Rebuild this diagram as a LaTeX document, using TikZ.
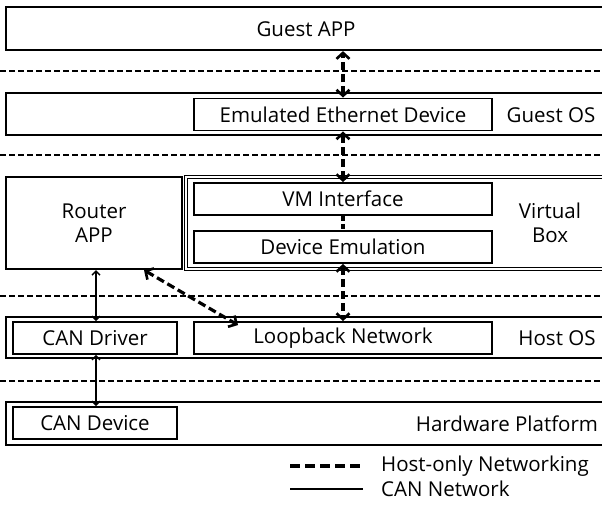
\documentclass[tikz,border=0pt]{standalone}
\usepackage{fontspec}
\setmainfont{Open Sans}
\usetikzlibrary{arrows.meta}

\tikzset{
  layer/.style={draw, line width=2.2pt, inner sep=0pt, minimum width=604pt},
  unit/.style={draw, line width=1.9pt, inner sep=0pt, minimum height=32pt},
  lbl/.style={inner sep=0pt, align=center},
  sep/.style={line width=1.6pt, dash pattern=on 6pt off 3pt},
  hostnet/.style={line width=3.2pt, dash pattern=on 8pt off 4pt,
    {Straight Barb[length=6pt,width=13pt,line width=2.6pt]}-{Straight Barb[length=6pt,width=13pt,line width=2.6pt]}},
  cannet/.style={line width=1.6pt,
    {Straight Barb[length=4pt,width=8pt,line width=1.4pt]}-{Straight Barb[length=4pt,width=8pt,line width=1.4pt]}}
}

\begin{document}
\begin{tikzpicture}[x=1pt,y=-1pt, font=\fontsize{20.5}{24}\selectfont]
    \useasboundingbox (0,0) rectangle (602,504);
    \clip (0,0) rectangle (602,504);

    % layers
    \node[layer, minimum height=43pt] (guestapp) at (308,28.5) {};
    \node[lbl] (guestapplbl) at (306,29) {Guest APP};
    \node[layer, minimum height=42pt] (guestos) at (308,114) {};
    \node[unit, minimum width=298pt] (emul) at (343,114.5) {Emulated Ethernet Device};
    \node[lbl] (guestoslbl) at (551,115) {Guest OS};

    \node[draw, line width=2.2pt, minimum width=176pt, minimum height=92pt, lbl] (router) at (94,223) {Router\\APP};
    \node[draw, double, line width=1.2pt, double distance=1.6pt, inner sep=0pt,
          minimum width=424pt, minimum height=92pt] (vbox) at (398,223) {};
    \node[unit, minimum width=298pt] (vmif) at (343,199) {VM Interface};
    \node[unit, minimum width=298pt] (devemu) at (343,247) {Device Emulation};
    \node[lbl] (vboxlbl) at (550,223) {Virtual\\Box};

    \node[layer, minimum height=41pt] (hostos) at (308,337.5) {};
    \node[unit, minimum width=164pt] (candrv) at (95,338) {CAN Driver};
    \node[unit, minimum width=298pt] (loop) at (343,338) {Loopback Network};
    \node[lbl] (hostoslbl) at (557,338) {Host OS};

    \node[layer, minimum height=43pt] (hw) at (308,423.5) {};
    \node[unit, minimum width=164pt] (candev) at (95,423) {CAN Device};
    \node[lbl] (hwlbl) at (507,424) {Hardware Platform};

    % separators
    \foreach \y in {71,155,296,381}
        \draw[sep] (0,\y) -- (602,\y);

    % host-only networking
    \draw[hostnet] (emul.north) -- (emul.north |- guestapp.south);
    \draw[hostnet] (vmif.north) -- (emul.south);
    \draw[line width=3.2pt, dash pattern=on 5pt off 3pt] (vmif.south) -- (devemu.north);
    \draw[hostnet] (devemu.south) -- (loop.north);
    \draw[hostnet] ([xshift=50pt]router.south) -- ([xshift=-105pt,yshift=-4pt]loop.north);

    % CAN network
    \draw[cannet] (candrv.north -| 96,0) -- (router.south -| 96,0);
    \draw[cannet] (candrv.south -| 96,0) -- (candev.north -| 96,0);

    % legend
    \coordinate (hoA) at (290,466);
    \coordinate (hoB) at (363,466);
    \coordinate (cnA) at (290,489);
    \coordinate (cnB) at (363,489);
    \draw[line width=3.4pt, dash pattern=on 10pt off 5pt] (hoA) -- (hoB);
    \node[lbl, anchor=west] (holbl) at (381,466) {Host-only Networking};
    \draw[line width=1.6pt] (cnA) -- (cnB);
    \node[lbl, anchor=west] (cnlbl) at (381,489) {CAN Network};
\end{tikzpicture}
\end{document}
